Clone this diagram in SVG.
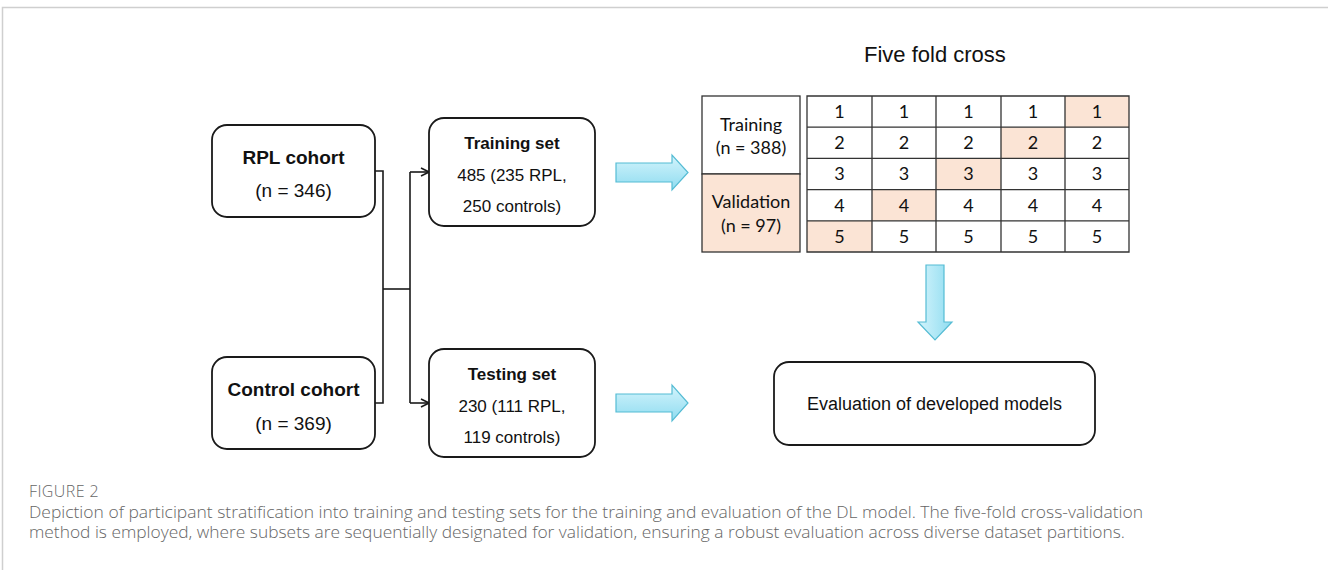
<svg xmlns="http://www.w3.org/2000/svg" width="1328" height="570" viewBox="0 0 1328 570">
  <defs>
    <style>
      .box { fill: #ffffff; stroke: #1a1a1a; stroke-width: 1.8; }
      .wire { fill: none; stroke: #1a1a1a; stroke-width: 1.6; }
      .ar { font-family: "Liberation Sans", Arial, sans-serif; fill: #111; text-anchor: middle; }
      .b { font-weight: bold; }
      .cal { font-family: Lato, "Open Sans", sans-serif; fill: #111; text-anchor: middle; font-size: 18px; }
      .cell { fill: #ffffff; stroke: #333; stroke-width: 1.3; }
      .hl { fill: #fbe4d5; }
      .blue { fill: url(#cyan); stroke: #55bcd4; stroke-width: 1.2; }
      .cap { font-family: "Open Sans", "Noto Sans", sans-serif; fill: #666; font-size: 16px; font-weight: 300; }
    </style>
    <linearGradient id="cyan" x1="0" y1="0" x2="0" y2="1">
      <stop offset="0" stop-color="#d4f4fc"/>
      <stop offset="1" stop-color="#8fdcf0"/>
    </linearGradient>
    <linearGradient id="cyanH" x1="0" y1="0" x2="1" y2="0">
      <stop offset="0" stop-color="#d4f4fc"/>
      <stop offset="1" stop-color="#8fdcf0"/>
    </linearGradient>
    <marker id="open" viewBox="0 0 10 10" refX="9" refY="5" markerWidth="10" markerHeight="10" markerUnits="userSpaceOnUse" orient="auto">
      <path d="M1,1 L9,5 L1,9" fill="none" stroke="#1a1a1a" stroke-width="1.6"/>
    </marker>
  </defs>

  <rect width="1328" height="570" fill="#ffffff"/>
  <!-- panel frame -->
  <path d="M2.5,570 V7.5 H1328" fill="none" stroke="#cfcfcf" stroke-width="1.5"/>

  <!-- connectors -->
  <g id="connectors">
    <path class="wire" d="M375,171 H383 V403 H375"/>
    <path class="wire" d="M383,289 H410"/>
    <path class="wire" d="M410,172 V403"/>
    <path class="wire" d="M410,172 H429" marker-end="url(#open)"/>
    <path class="wire" d="M410,403 H429" marker-end="url(#open)"/>
    <polygon class="blue" points="616,163 672,163 672,155 688,172.5 672,190 672,182 616,182"/>
    <polygon class="blue" points="616,394 672,394 672,385 688,403 672,421 672,412 616,412"/>
    <polygon class="blue" style="fill:url(#cyanH)" points="926,265 944,265 944,322 952,322 935,340 918,322 926,322"/>
  </g>

  <!-- cohorts -->
  <g id="rpl-cohort">
    <rect class="box" x="212" y="125" width="163" height="92" rx="15"/>
    <text class="ar b" x="293.5" y="164" font-size="19">RPL cohort</text>
    <text class="ar" x="293.5" y="197" font-size="19">(n = 346)</text>
  </g>
  <g id="control-cohort">
    <rect class="box" x="212" y="357" width="163" height="92" rx="15"/>
    <text class="ar b" x="293.5" y="396" font-size="19">Control cohort</text>
    <text class="ar" x="293.5" y="430" font-size="19">(n = 369)</text>
  </g>

  <!-- data splits -->
  <g id="training-set">
    <rect class="box" x="429" y="118" width="166" height="108" rx="15"/>
    <text class="ar b" x="512" y="149" font-size="17">Training set</text>
    <text class="ar" x="512" y="181" font-size="17">485 (235 RPL,</text>
    <text class="ar" x="512" y="212" font-size="17">250 controls)</text>
  </g>
  <g id="testing-set">
    <rect class="box" x="429" y="349" width="166" height="108" rx="15"/>
    <text class="ar b" x="512" y="380" font-size="17">Testing set</text>
    <text class="ar" x="512" y="412" font-size="17">230 (111 RPL,</text>
    <text class="ar" x="512" y="443" font-size="17">119 controls)</text>
  </g>

  <!-- five fold cross validation -->
  <g id="five-fold">
    <text class="ar" x="864" y="62" font-size="22" style="text-anchor:start">Five fold cross</text>

    <g id="fold-legend">
      <rect class="cell" x="702" y="96" width="98" height="78"/>
      <rect class="cell hl" x="702" y="174" width="98" height="78"/>
      <text class="cal" x="751" y="131">Training</text>
      <text class="cal" x="751" y="154">(n = 388)</text>
      <text class="cal" x="751" y="208">Validation</text>
      <text class="cal" x="751" y="232">(n = 97)</text>
    </g>

    <g id="fold-grid">
      <!-- highlighted validation folds -->
      <rect class="hl" x="1065" y="96" width="64" height="31.2"/>
      <rect class="hl" x="1001" y="127.2" width="64" height="31.2"/>
      <rect class="hl" x="936" y="158.4" width="65" height="31.2"/>
      <rect class="hl" x="872" y="189.6" width="64" height="31.2"/>
      <rect class="hl" x="807" y="220.8" width="65" height="31.2"/>
      <path d="M807,96 H1129 V252 H807 Z M807,127.2 H1129 M807,158.4 H1129 M807,189.6 H1129 M807,220.8 H1129 M872,96 V252 M936,96 V252 M1001,96 V252 M1065,96 V252" fill="none" stroke="#333" stroke-width="1.3"/>
      <g class="cal">
        <text x="839.5" y="118">1</text><text x="904" y="118">1</text><text x="968.5" y="118">1</text><text x="1033" y="118">1</text><text x="1097" y="118">1</text>
        <text x="839.5" y="149.2">2</text><text x="904" y="149.2">2</text><text x="968.5" y="149.2">2</text><text x="1033" y="149.2">2</text><text x="1097" y="149.2">2</text>
        <text x="839.5" y="180.4">3</text><text x="904" y="180.4">3</text><text x="968.5" y="180.4">3</text><text x="1033" y="180.4">3</text><text x="1097" y="180.4">3</text>
        <text x="839.5" y="211.6">4</text><text x="904" y="211.6">4</text><text x="968.5" y="211.6">4</text><text x="1033" y="211.6">4</text><text x="1097" y="211.6">4</text>
        <text x="839.5" y="242.8">5</text><text x="904" y="242.8">5</text><text x="968.5" y="242.8">5</text><text x="1033" y="242.8">5</text><text x="1097" y="242.8">5</text>
      </g>
    </g>
  </g>

  <g id="evaluation">
    <rect class="box" x="774" y="362" width="321" height="83" rx="15"/>
    <text class="ar" x="934.5" y="410" font-size="18">Evaluation of developed models</text>
  </g>

  <!-- caption -->
  <g id="caption">
    <text class="cap" x="29" y="497" font-size="11" letter-spacing="0.4">FIGURE 2</text>
    <text class="cap" x="29" y="518" textLength="1114" lengthAdjust="spacingAndGlyphs">Depiction of participant stratification into training and testing sets for the training and evaluation of the DL model. The five-fold cross-validation</text>
    <text class="cap" x="29" y="538" textLength="1096" lengthAdjust="spacingAndGlyphs">method is employed, where subsets are sequentially designated for validation, ensuring a robust evaluation across diverse dataset partitions.</text>
  </g>
</svg>
